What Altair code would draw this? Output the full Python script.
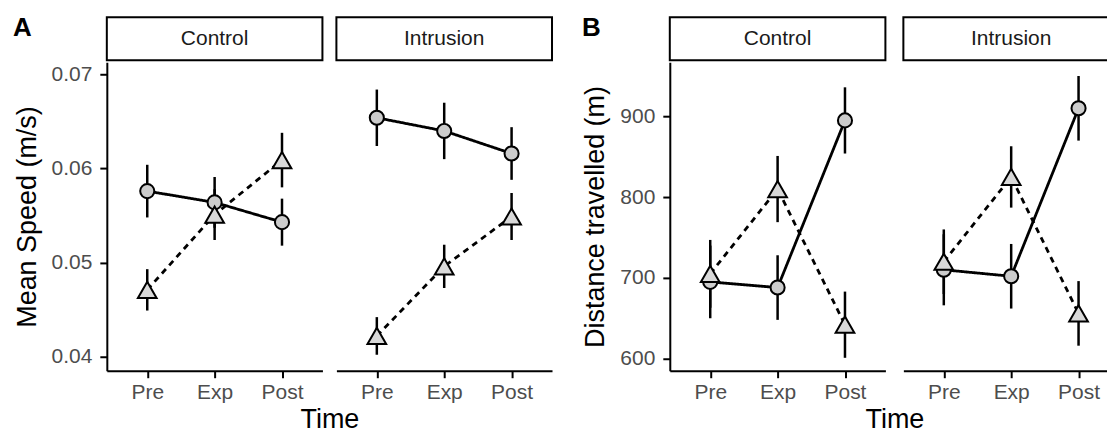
import altair as alt
import pandas as pd

FONT = "Liberation Sans"

times = ["Pre", "Exp", "Post"]
conditions = ["Control", "Intrusion"]
series = ["Group 1", "Group 2"]  # Group 1: circles / solid, Group 2: triangles / dashed

# Panel A: Mean speed (m/s), mean and error per time point
speed_g1_control = [0.0576, 0.0564, 0.0543]
speed_g1_control_err = [0.0028, 0.0027, 0.0025]
speed_g2_control = [0.0471, 0.0551, 0.0609]
speed_g2_control_err = [0.0022, 0.0027, 0.0029]
speed_g1_intrusion = [0.0654, 0.0640, 0.0616]
speed_g1_intrusion_err = [0.0030, 0.0030, 0.0028]
speed_g2_intrusion = [0.0422, 0.0496, 0.0549]
speed_g2_intrusion_err = [0.0020, 0.0023, 0.0025]

# Panel B: Distance travelled (m)
dist_g1_control = [695, 688, 895]
dist_g1_control_err = [45, 40, 41]
dist_g2_control = [705, 810, 642]
dist_g2_control_err = [42, 41, 41]
dist_g1_intrusion = [710, 702, 910]
dist_g1_intrusion_err = [44, 40, 40]
dist_g2_intrusion = [720, 825, 656]
dist_g2_intrusion_err = [40, 38, 40]

speed_ticks = [0.04, 0.05, 0.06, 0.07]
dist_ticks = [600, 700, 800, 900]


def make_df(g1, g1e, g2, g2e):
    rows = []
    for s, vals, errs in ((series[0], g1, g1e), (series[1], g2, g2e)):
        for i, t in enumerate(times):
            rows.append({"time": t, "t": i, "series": s, "mean": vals[i],
                         "lo": vals[i] - errs[i], "hi": vals[i] + errs[i]})
    return pd.DataFrame(rows)


AX = dict(domainColor="black", domainWidth=2, tickColor="black", tickWidth=2, tickSize=7,
          labelFont=FONT, labelFontSize=21, labelColor="#4d4d4d", titleFont=FONT,
          titleFontSize=27, titleFontWeight="normal", titleColor="black", grid=False)

W, H, SH = 216, 309, 43


def panel(df, domain, ticks, fmt, ytitle, first, gap):
    if first:
        xaxis = alt.Axis(**AX, labelAngle=0, labelPadding=4, title="Time",
                         titleX=(2 * W + gap) / 2, titleAlign="center", titlePadding=4)
        yaxis = alt.Axis(**AX, values=ticks, format=fmt, labelPadding=8,
                         titlePadding=10, title=ytitle)
    else:
        xaxis = alt.Axis(**AX, labelAngle=0, labelPadding=4, title=None)
        yaxis = None
    x = alt.X("time:N", sort=times, scale=alt.Scale(type="point", padding=0.6), axis=xaxis)
    yscale = alt.Scale(domain=domain, nice=False, zero=False)
    base = alt.Chart(df).encode(x=x)
    rules = base.mark_rule(color="black", strokeWidth=2.5).encode(
        y=alt.Y("lo:Q", scale=yscale, axis=yaxis), y2="hi:Q")
    lines = base.mark_line(color="black", strokeWidth=2.8).encode(
        y=alt.Y("mean:Q", scale=yscale, axis=yaxis),
        strokeDash=alt.StrokeDash("series:N", scale=alt.Scale(domain=series, range=[[1, 0], [6, 5]]), legend=None),
        order="t:Q")
    points = base.mark_point(filled=True, stroke="black", strokeWidth=2, opacity=1).encode(
        y=alt.Y("mean:Q", scale=yscale, axis=yaxis),
        shape=alt.Shape("series:N", scale=alt.Scale(domain=series, range=["circle", "triangle-up"]), legend=None),
        fill=alt.Fill("series:N", scale=alt.Scale(domain=series, range=["#cccccc", "#d9d9d9"]), legend=None),
        size=alt.Size("series:N", scale=alt.Scale(domain=series, range=[200, 350]), legend=None))
    return alt.layer(rules, lines, points).properties(width=W, height=H)


def strip(label):
    return alt.Chart(pd.DataFrame({"label": [label]})).mark_text(
        font=FONT, fontSize=21, color="#1a1a1a").encode(text="label:N").properties(
        width=W, height=SH, view=alt.ViewBackground(stroke="black", strokeWidth=2, fill="white"))


def group(letter, dfs, domain, ticks, fmt, ytitle, gap):
    grid = alt.concat(
        strip(conditions[0]), strip(conditions[1]),
        panel(dfs[0], domain, ticks, fmt, ytitle, True, gap),
        panel(dfs[1], domain, ticks, fmt, ytitle, False, gap),
        columns=2, spacing={"row": 2, "column": gap}, bounds="flush")
    return alt.vconcat(grid, title=alt.Title(letter, anchor="start", font=FONT, fontSize=26,
                                             fontWeight="bold", color="black", offset=-25))


dfA = [make_df(speed_g1_control, speed_g1_control_err, speed_g2_control, speed_g2_control_err),
       make_df(speed_g1_intrusion, speed_g1_intrusion_err, speed_g2_intrusion, speed_g2_intrusion_err)]
dfB = [make_df(dist_g1_control, dist_g1_control_err, dist_g2_control, dist_g2_control_err),
       make_df(dist_g1_intrusion, dist_g1_intrusion_err, dist_g2_intrusion, dist_g2_intrusion_err)]

A = group("A", dfA, [0.0385, 0.0713], speed_ticks, ".2f", "Mean Speed (m/s)", 14)
B = group("B", dfB, [585, 967], dist_ticks, "d", "Distance travelled (m)", 18)

chart = alt.hconcat(A, B, spacing=28).properties(
    padding={"left": 5, "top": 7, "right": -13, "bottom": 0},
    background="white"
).configure_view(stroke=None)

chart.save("out.html", embed_options={"renderer": "svg", "actions": False})
